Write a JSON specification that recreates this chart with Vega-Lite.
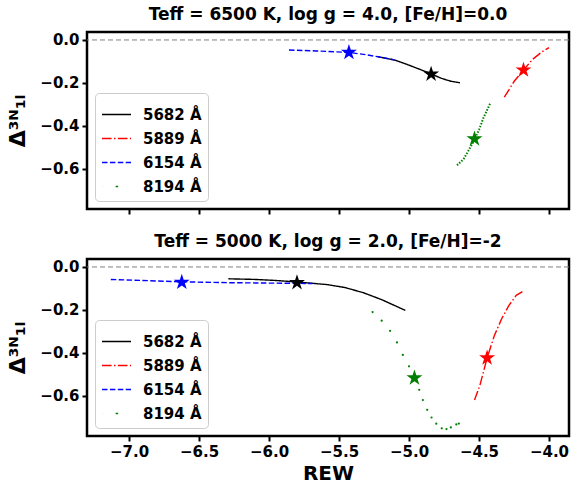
{
  "$schema": "https://vega.github.io/schema/vega-lite/v6.json",
  "padding": {"left": 5, "top": 4, "right": 1, "bottom": 4},
  "spacing": 14,
  "config": {
    "font": "DejaVu Sans",
    "view": {"stroke": "black", "strokeWidth": 2.5},
    "axis": {"grid": false, "domain": false, "tickColor": "black", "tickWidth": 2, "tickSize": 5, "labelFontSize": 15, "labelFontWeight": "bold", "labelColor": "black", "labelPadding": 3, "titleColor": "black", "titleFontWeight": "bold"},
    "title": {"fontSize": 17, "fontWeight": "bold", "color": "black", "offset": 8},
    "legend": {"orient": "bottom-left", "offset": 8, "padding": 6, "fillColor": "white", "strokeColor": "#cccccc", "cornerRadius": 4, "labelFontSize": 15, "labelFontWeight": "bold", "labelColor": "black", "symbolType": "stroke", "symbolSize": 841, "symbolStrokeWidth": 1.5, "labelOffset": 11, "rowPadding": -7}
  },
  "datasets": {
    "zero": [{"d": 0}],
    "curves": [
      {"p": "top", "line": "5682 Å", "rew": -5.22, "d": -0.078},
      {"p": "top", "line": "5682 Å", "rew": -5.104, "d": -0.093},
      {"p": "top", "line": "5682 Å", "rew": -5.013, "d": -0.114},
      {"p": "top", "line": "5682 Å", "rew": -4.909, "d": -0.140},
      {"p": "top", "line": "5682 Å", "rew": -4.839, "d": -0.159},
      {"p": "top", "line": "5682 Å", "rew": -4.766, "d": -0.179},
      {"p": "top", "line": "5682 Å", "rew": -4.701, "d": -0.192},
      {"p": "top", "line": "5682 Å", "rew": -4.636, "d": -0.199},
      {"p": "top", "line": "5889 Å", "rew": -4.319, "d": -0.266},
      {"p": "top", "line": "5889 Å", "rew": -4.247, "d": -0.191},
      {"p": "top", "line": "5889 Å", "rew": -4.182, "d": -0.140},
      {"p": "top", "line": "5889 Å", "rew": -4.117, "d": -0.090},
      {"p": "top", "line": "5889 Å", "rew": -4.052, "d": -0.056},
      {"p": "top", "line": "5889 Å", "rew": -4.0, "d": -0.036},
      {"p": "top", "line": "6154 Å", "rew": -5.857, "d": -0.047},
      {"p": "top", "line": "6154 Å", "rew": -5.662, "d": -0.051},
      {"p": "top", "line": "6154 Å", "rew": -5.429, "d": -0.058},
      {"p": "top", "line": "6154 Å", "rew": -5.325, "d": -0.067},
      {"p": "top", "line": "6154 Å", "rew": -5.221, "d": -0.078},
      {"p": "top", "line": "6154 Å", "rew": -5.104, "d": -0.093},
      {"p": "top", "line": "8194 Å", "rew": -4.657, "d": -0.583},
      {"p": "top", "line": "8194 Å", "rew": -4.61, "d": -0.554},
      {"p": "top", "line": "8194 Å", "rew": -4.571, "d": -0.510},
      {"p": "top", "line": "8194 Å", "rew": -4.532, "d": -0.463},
      {"p": "top", "line": "8194 Å", "rew": -4.499, "d": -0.417},
      {"p": "top", "line": "8194 Å", "rew": -4.468, "d": -0.362},
      {"p": "top", "line": "8194 Å", "rew": -4.42, "d": -0.295},
      {"p": "bottom", "line": "5682 Å", "rew": -6.29, "d": -0.055},
      {"p": "bottom", "line": "5682 Å", "rew": -6.1, "d": -0.058},
      {"p": "bottom", "line": "5682 Å", "rew": -5.95, "d": -0.063},
      {"p": "bottom", "line": "5682 Å", "rew": -5.8, "d": -0.070},
      {"p": "bottom", "line": "5682 Å", "rew": -5.584, "d": -0.082},
      {"p": "bottom", "line": "5682 Å", "rew": -5.455, "d": -0.096},
      {"p": "bottom", "line": "5682 Å", "rew": -5.325, "d": -0.120},
      {"p": "bottom", "line": "5682 Å", "rew": -5.195, "d": -0.152},
      {"p": "bottom", "line": "5682 Å", "rew": -5.104, "d": -0.179},
      {"p": "bottom", "line": "5682 Å", "rew": -5.026, "d": -0.202},
      {"p": "bottom", "line": "5889 Å", "rew": -4.532, "d": -0.619},
      {"p": "bottom", "line": "5889 Å", "rew": -4.494, "d": -0.552},
      {"p": "bottom", "line": "5889 Å", "rew": -4.442, "d": -0.423},
      {"p": "bottom", "line": "5889 Å", "rew": -4.39, "d": -0.319},
      {"p": "bottom", "line": "5889 Å", "rew": -4.338, "d": -0.241},
      {"p": "bottom", "line": "5889 Å", "rew": -4.286, "d": -0.179},
      {"p": "bottom", "line": "5889 Å", "rew": -4.234, "d": -0.132},
      {"p": "bottom", "line": "5889 Å", "rew": -4.19, "d": -0.115},
      {"p": "bottom", "line": "6154 Å", "rew": -7.13, "d": -0.058},
      {"p": "bottom", "line": "6154 Å", "rew": -6.9, "d": -0.063},
      {"p": "bottom", "line": "6154 Å", "rew": -6.62, "d": -0.069},
      {"p": "bottom", "line": "6154 Å", "rew": -6.3, "d": -0.073},
      {"p": "bottom", "line": "6154 Å", "rew": -6.0, "d": -0.075},
      {"p": "bottom", "line": "6154 Å", "rew": -5.69, "d": -0.077},
      {"p": "bottom", "line": "8194 Å", "rew": -5.26, "d": -0.210},
      {"p": "bottom", "line": "8194 Å", "rew": -5.195, "d": -0.250},
      {"p": "bottom", "line": "8194 Å", "rew": -5.135, "d": -0.297},
      {"p": "bottom", "line": "8194 Å", "rew": -5.086, "d": -0.351},
      {"p": "bottom", "line": "8194 Å", "rew": -5.044, "d": -0.409},
      {"p": "bottom", "line": "8194 Å", "rew": -5.0, "d": -0.462},
      {"p": "bottom", "line": "8194 Å", "rew": -4.961, "d": -0.516},
      {"p": "bottom", "line": "8194 Å", "rew": -4.927, "d": -0.571},
      {"p": "bottom", "line": "8194 Å", "rew": -4.901, "d": -0.619},
      {"p": "bottom", "line": "8194 Å", "rew": -4.87, "d": -0.664},
      {"p": "bottom", "line": "8194 Å", "rew": -4.839, "d": -0.700},
      {"p": "bottom", "line": "8194 Å", "rew": -4.805, "d": -0.729},
      {"p": "bottom", "line": "8194 Å", "rew": -4.766, "d": -0.750},
      {"p": "bottom", "line": "8194 Å", "rew": -4.732, "d": -0.754},
      {"p": "bottom", "line": "8194 Å", "rew": -4.701, "d": -0.746},
      {"p": "bottom", "line": "8194 Å", "rew": -4.662, "d": -0.732},
      {"p": "bottom", "line": "8194 Å", "rew": -4.644, "d": -0.728}
    ],
    "stars": [
      {"p": "top", "line": "5682 Å", "rew": -4.842, "d": -0.159},
      {"p": "top", "line": "5889 Å", "rew": -4.182, "d": -0.140},
      {"p": "top", "line": "6154 Å", "rew": -5.429, "d": -0.058},
      {"p": "top", "line": "8194 Å", "rew": -4.532, "d": -0.460},
      {"p": "bottom", "line": "5682 Å", "rew": -5.8, "d": -0.073},
      {"p": "bottom", "line": "5889 Å", "rew": -4.442, "d": -0.423},
      {"p": "bottom", "line": "6154 Å", "rew": -6.623, "d": -0.071},
      {"p": "bottom", "line": "8194 Å", "rew": -4.961, "d": -0.516}
    ]
  },
  "resolve": {"scale": {"color": "independent", "strokeDash": "independent"}, "legend": {"color": "independent", "strokeDash": "independent"}},
  "vconcat": [
    {
      "width": 482, "height": 177,
      "title": "Teff = 6500 K, log g = 4.0, [Fe/H]=0.0",
      "layer": [
        {
          "data": {"name": "zero"},
          "mark": {"type": "rule", "color": "#808080", "strokeDash": [5, 3], "strokeWidth": 1},
          "encoding": {"y": {"field": "d", "type": "quantitative", "scale": {"domain": [-0.786, 0.037], "nice": false, "zero": false}, "axis": {"values": [0, -0.2, -0.4, -0.6], "format": ".1f", "title": "Δ³ᴺ₁ₗ", "titleFontSize": 22, "titlePadding": 10}}}
        },
        {
          "data": {"name": "curves"},
          "transform": [{"filter": "datum.p === 'top' && datum.line !== '8194 Å'"}],
          "mark": {"type": "line", "strokeWidth": 1.4},
          "encoding": {
            "x": {"field": "rew", "type": "quantitative", "scale": {"domain": [-7.3, -3.857], "nice": false, "zero": false}, "axis": {"values": [-7, -6.5, -6, -5.5, -5, -4.5, -4], "labels": false, "title": null}},
            "y": {"field": "d", "type": "quantitative"},
            "color": {"field": "line", "type": "nominal", "title": null, "legend": {"symbolType": "stroke"}, "scale": {"domain": ["5682 Å", "5889 Å", "6154 Å", "8194 Å"], "range": ["black", "red", "blue", "green"]}},
            "strokeDash": {"field": "line", "type": "nominal", "title": null, "legend": {"symbolType": "stroke"}, "scale": {"domain": ["5682 Å", "5889 Å", "6154 Å", "8194 Å"], "range": [[1, 0], [9.6, 2.4, 1.5, 2.4], [5.5, 2.4], [0.1, 13.5, 2.5, 40]]}}
          }
        },
        {
          "data": {"name": "curves"},
          "transform": [{"filter": "datum.p === 'top' && datum.line === '8194 Å'"}],
          "mark": {"type": "line", "color": "green", "strokeWidth": 2, "strokeDash": [1.5, 1.5]},
          "encoding": {"x": {"field": "rew", "type": "quantitative"}, "y": {"field": "d", "type": "quantitative"}}
        },
        {
          "data": {"name": "stars"},
          "transform": [{"filter": "datum.p === 'top'"}],
          "mark": {"type": "point", "shape": "M0,-1L0.2245,-0.309L0.951,-0.309L0.3633,0.118L0.588,0.809L0,0.382L-0.588,0.809L-0.3633,0.118L-0.951,-0.309L-0.2245,-0.309Z", "filled": true, "size": 280, "opacity": 1},
          "encoding": {
            "x": {"field": "rew", "type": "quantitative"}, "y": {"field": "d", "type": "quantitative"},
            "color": {"field": "line", "type": "nominal", "title": null, "legend": {"symbolType": "stroke"}}
          }
        }
      ]
    },
    {
      "width": 482, "height": 177,
      "title": "Teff = 5000 K, log g = 2.0, [Fe/H]=-2",
      "layer": [
        {
          "data": {"name": "zero"},
          "mark": {"type": "rule", "color": "#808080", "strokeDash": [5, 3], "strokeWidth": 1},
          "encoding": {"y": {"field": "d", "type": "quantitative", "scale": {"domain": [-0.786, 0.037], "nice": false, "zero": false}, "axis": {"values": [0, -0.2, -0.4, -0.6], "format": ".1f", "title": "Δ³ᴺ₁ₗ", "titleFontSize": 22, "titlePadding": 10}}}
        },
        {
          "data": {"name": "curves"},
          "transform": [{"filter": "datum.p === 'bottom' && datum.line !== '8194 Å'"}],
          "mark": {"type": "line", "strokeWidth": 1.4},
          "encoding": {
            "x": {"field": "rew", "type": "quantitative", "scale": {"domain": [-7.3, -3.857], "nice": false, "zero": false}, "axis": {"values": [-7, -6.5, -6, -5.5, -5, -4.5, -4], "format": ".1f", "title": "REW", "titleFontSize": 20, "titlePadding": 4}},
            "y": {"field": "d", "type": "quantitative"},
            "color": {"field": "line", "type": "nominal", "title": null, "legend": {"symbolType": "stroke"}, "scale": {"domain": ["5682 Å", "5889 Å", "6154 Å", "8194 Å"], "range": ["black", "red", "blue", "green"]}},
            "strokeDash": {"field": "line", "type": "nominal", "title": null, "legend": {"symbolType": "stroke"}, "scale": {"domain": ["5682 Å", "5889 Å", "6154 Å", "8194 Å"], "range": [[1, 0], [9.6, 2.4, 1.5, 2.4], [5.5, 2.4], [0.1, 13.5, 2.5, 40]]}}
          }
        },
        {
          "data": {"name": "curves"},
          "transform": [{"filter": "datum.p === 'bottom' && datum.line === '8194 Å'"}],
          "mark": {"type": "point", "filled": true, "color": "green", "size": 5, "opacity": 1},
          "encoding": {"x": {"field": "rew", "type": "quantitative"}, "y": {"field": "d", "type": "quantitative"}}
        },
        {
          "data": {"name": "stars"},
          "transform": [{"filter": "datum.p === 'bottom'"}],
          "mark": {"type": "point", "shape": "M0,-1L0.2245,-0.309L0.951,-0.309L0.3633,0.118L0.588,0.809L0,0.382L-0.588,0.809L-0.3633,0.118L-0.951,-0.309L-0.2245,-0.309Z", "filled": true, "size": 280, "opacity": 1},
          "encoding": {
            "x": {"field": "rew", "type": "quantitative"}, "y": {"field": "d", "type": "quantitative"},
            "color": {"field": "line", "type": "nominal", "title": null, "legend": {"symbolType": "stroke"}}
          }
        }
      ]
    }
  ]
}
